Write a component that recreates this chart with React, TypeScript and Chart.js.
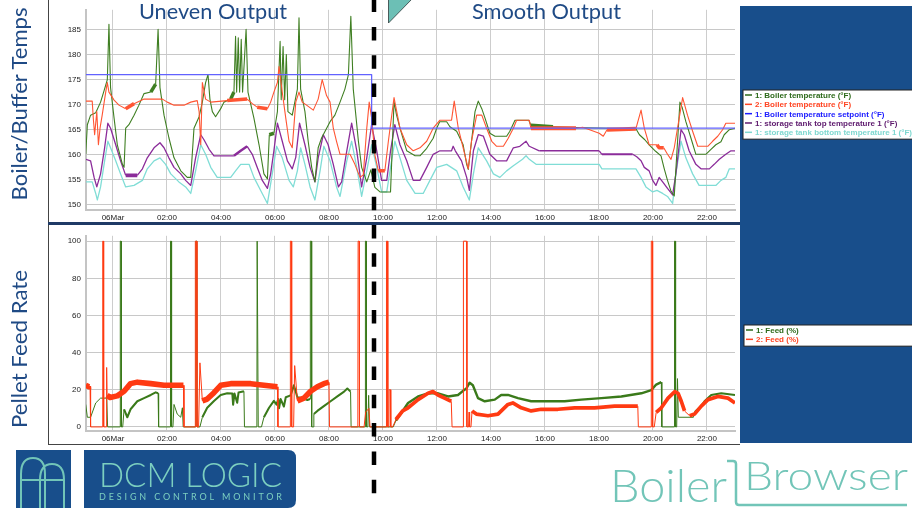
import React, { useEffect, useRef } from 'react';
import { Chart, registerables } from 'chart.js';
Chart.register(...registerables);

type P = [number, number];
type Band = [number, number, number];

// ---------- axes ----------
const timeMin = -1;
const timeMax = 23.04;
const hourTicks = [0, 2, 4, 6, 8, 10, 12, 14, 16, 18, 20, 22];
const hourLabels = ['06Mar', '02:00', '04:00', '06:00', '08:00', '10:00', '12:00', '14:00', '16:00', '18:00', '20:00', '22:00'];
const tempTicks = [150, 155, 160, 165, 170, 175, 180, 185];
const feedTicks = [0, 20, 40, 60, 80, 100];

// ---------- temperatures (hour, °F) ----------
const boiler1Temp: P[] = [[-1.01,160.1],[-0.95,166],[-0.83,167.9],[-0.64,168.4],[-0.46,170.5],[-0.33,172.8],[-0.21,175],[-0.15,186],[-0.09,173.4],[0.04,167.3],[0.16,162],[0.35,158.1],[0.41,157.5],[0.47,165.3],[0.59,166],[0.78,167.9],[0.96,169.9],[1.15,172.2],[1.4,172.5],[1.58,174.1],[1.67,185],[1.74,173.4],[1.89,167.9],[2.07,163.4],[2.26,159.4],[2.51,156.8],[2.75,155.5],[2.88,155.5],[3.0,165.3],[3.19,167.6],[3.31,170.5],[3.43,174.4],[3.52,176],[3.59,171.1],[3.68,168.6],[3.8,167.6],[3.99,169.2],[4.11,170.5],[4.36,171.1],[4.48,172.5],[4.54,183.6],[4.58,172.5],[4.64,183.3],[4.69,172.5],[4.75,183],[4.8,172.5],[4.93,185],[5.0,172.5],[5.22,167.3],[5.41,162],[5.59,156.2],[5.72,155.2],[5.79,164],[5.96,164.3],[6.09,168.6],[6.19,182.6],[6.23,171],[6.3,181.6],[6.36,171],[6.42,180],[6.48,168.6],[6.64,167.9],[6.83,173.1],[6.89,187.3],[6.95,173.1],[7.11,168.6],[7.23,162.7],[7.36,157.5],[7.48,154.6],[7.6,161.4],[7.73,163.4],[8.04,166.6],[8.22,167.9],[8.41,170.5],[8.59,173.1],[8.72,176],[8.81,187.6],[8.9,173.1],[9.09,162.7],[9.21,157.5],[9.4,154.6],[9.55,157],[9.7,153.5],[9.89,152.6],[10.28,152.6],[10.41,170.6],[10.5,168],[10.63,165.3],[10.88,160.8],[11.19,159.8],[11.37,159.8],[11.62,161.3],[11.86,163.3],[11.99,165.3],[12.1,166.6],[12.36,166.6],[12.48,165.6],[12.73,164.7],[12.97,162],[13.1,158.1],[13.16,157.1],[13.28,162.7],[13.41,168.6],[13.53,170.7],[13.66,169.2],[13.78,167.3],[13.96,164.3],[14.15,163.7],[14.58,163.7],[14.7,164.7],[14.89,166.9],[15.4,166.9],[15.48,165.9],[16.3,165.6],[17.5,165.4],[19.37,165.2],[19.5,164],[19.7,163],[19.86,162],[20.1,160.7],[20.3,159.8],[20.42,157.2],[20.54,154.9],[20.66,152.9],[20.79,151.8],[21.0,170.5],[21.08,169.5],[21.22,166.6],[21.41,163.3],[21.59,160.1],[21.96,160.1],[22.15,161.1],[22.33,162],[22.52,162.6],[22.64,164],[22.83,165],[23.04,165.3]];

const boiler2Temp: P[] = [[-1.01,170.7],[-0.77,170.7],[-0.73,167.3],[-0.68,164],[-0.6,168.6],[-0.54,162],[-0.48,165.3],[-0.4,167.9],[-0.27,172.5],[-0.21,174.4],[-0.15,172.5],[0.04,170.9],[0.22,169.9],[0.47,169.2],[0.78,170.2],[1.15,171.1],[1.83,171.1],[2.01,170.5],[2.26,169.9],[2.63,169.9],[2.88,170.5],[3.12,170.8],[3.19,168.6],[3.25,162],[3.31,174.4],[3.43,171.1],[3.62,170.5],[4.23,170.8],[4.97,171.1],[5.16,170.2],[5.34,169.5],[5.72,169.2],[5.84,170.5],[5.96,172.5],[6.09,174.4],[6.15,177.6],[6.27,172.5],[6.4,167.3],[6.52,162.7],[6.64,161.4],[6.77,170.5],[6.89,172.5],[7.01,170.5],[7.17,169.9],[7.42,168.9],[7.6,171.1],[7.75,175],[7.91,171.8],[8.04,170.5],[8.16,165.3],[8.28,162.7],[8.41,160.1],[8.78,160.1],[8.96,158.1],[9.15,155.5],[9.27,156],[9.4,165.3],[9.49,170.5],[9.58,167.3],[9.7,160],[9.83,156.8],[10.07,156.8],[10.2,162.7],[10.41,171.4],[10.63,165.3],[10.88,162],[11.12,160.8],[11.37,161.4],[11.62,162.7],[11.86,165.3],[12.11,166.9],[12.54,166.9],[12.64,170.7],[12.79,165.3],[12.97,161.4],[13.16,157.2],[13.28,162.7],[13.47,167.9],[13.66,167.9],[13.84,165.3],[14.03,162.7],[14.21,161.7],[14.46,161.7],[14.64,163.3],[14.83,165.3],[14.95,166.9],[15.42,166.9],[15.48,165.3],[17.15,165.3],[17.4,165.5],[18.01,164.3],[18.16,163.7],[18.3,165],[19.37,165.2],[19.56,168.9],[19.68,165.3],[19.86,162],[20.15,162],[20.23,161.4],[20.4,161.4],[20.54,160.1],[20.67,159.1],[20.79,161.4],[21.1,171.4],[21.28,167.9],[21.47,164.7],[21.66,161.7],[22.03,161.7],[22.21,162.7],[22.4,163.7],[22.58,165],[22.7,166.3],[23.04,166.3]];

const boilerSetpoint: P[] = [[-1.01,176],[9.58,176],[9.58,165.3],[23.04,165.3]];

const tankTopTemp: P[] = [[-1.01,159.1],[-0.83,158.8],[-0.7,155.5],[-0.6,153.6],[-0.46,156.2],[-0.31,161.4],[-0.19,166.3],[-0.09,165.3],[0.1,162],[0.28,158.8],[0.47,155.9],[0.9,155.9],[1.09,157.2],[1.27,159.4],[1.52,161.4],[1.74,162.4],[1.89,161.4],[2.07,159.4],[2.26,157.5],[2.51,156.2],[2.69,154.9],[2.88,153.9],[3.06,159.4],[3.25,164],[3.37,163],[3.56,161.1],[3.74,159.8],[4.48,159.8],[4.73,160.8],[4.97,161.7],[5.16,160.1],[5.34,157.5],[5.53,154.9],[5.72,153.3],[5.84,156.2],[5.96,160.8],[6.09,166.3],[6.27,162.7],[6.46,158.8],[6.64,157.2],[6.77,159.5],[6.91,166.3],[7.11,162],[7.3,157.5],[7.48,154.6],[7.6,159.4],[7.79,164],[7.97,162],[8.16,158.1],[8.35,153.6],[8.47,154.6],[8.66,160.8],[8.84,166.3],[9.03,160.8],[9.21,153.6],[9.4,159.4],[9.58,166],[9.77,160.8],[9.95,154.9],[10.14,154.9],[10.28,160.8],[10.44,166],[10.63,162],[10.88,158.8],[11.12,154.9],[11.37,154.9],[11.62,157.5],[11.86,160.1],[12.11,160.8],[12.54,160.8],[12.6,161.7],[12.68,160.8],[12.91,158.8],[13.1,155.5],[13.2,152.9],[13.35,160.8],[13.53,164],[13.72,163.7],[13.96,160.1],[14.21,158.8],[14.58,158.8],[14.83,161.4],[15.07,161.7],[15.3,162.7],[15.42,161.7],[15.79,160.8],[18.01,160.8],[18.11,160.1],[19.25,160.1],[19.4,159.6],[19.56,158.8],[19.68,157.5],[19.86,156.8],[19.99,154.9],[20.11,153.9],[20.23,155.5],[20.36,154.6],[20.54,153.3],[20.73,152],[20.85,156.2],[21.04,165],[21.16,164],[21.34,160.8],[21.59,158.1],[21.78,157.2],[22.09,157.2],[22.27,158.1],[22.46,159.1],[22.7,160.1],[22.89,160.8],[23.04,160.8]];

const tankBottomTemp: P[] = [[-1.01,154.6],[-0.77,154.6],[-0.64,152.3],[-0.58,151],[-0.46,153.6],[-0.31,158.8],[-0.19,162.7],[-0.09,161.4],[0.1,158.8],[0.28,156.2],[0.47,153.6],[0.78,153.9],[1.09,154.9],[1.27,157.2],[1.52,158.8],[1.74,159.4],[1.95,158.1],[2.14,156.2],[2.44,154.6],[2.69,153.6],[2.88,152.3],[3.06,156.8],[3.25,162],[3.43,160.1],[3.62,157.5],[3.86,155.5],[4.36,155.5],[4.54,156.8],[4.73,158.1],[5.04,158.1],[5.22,155.5],[5.47,152.9],[5.72,150.3],[5.9,156.2],[6.06,161.7],[6.27,159.4],[6.52,154.9],[6.68,153.6],[6.83,156.8],[6.95,161.4],[7.11,158.1],[7.3,153.6],[7.48,151],[7.67,156.8],[7.81,161.7],[8.04,158.8],[8.28,153.6],[8.41,151.7],[8.66,158.8],[8.84,162.7],[9.03,157.5],[9.21,151.7],[9.4,156.8],[9.58,162],[9.77,157.5],[9.95,152.6],[10.14,152.6],[10.28,157.5],[10.44,162.7],[10.63,159.4],[10.88,154.9],[11.19,152.3],[11.49,152.3],[11.74,154.9],[11.99,157.5],[12.36,158.1],[12.73,156.8],[12.97,153.6],[13.2,151],[13.35,156.2],[13.53,161.4],[13.84,158.8],[14.09,156.2],[14.33,155.5],[14.58,156.8],[14.83,157.8],[15.17,159.1],[15.3,159.8],[15.42,159.1],[15.67,158.1],[18.01,158.1],[18.11,157.2],[19.37,157.2],[19.56,155.5],[19.74,153.6],[19.99,152.6],[20.15,152.9],[20.36,152.3],[20.54,151.7],[20.73,150.3],[20.85,156.2],[21.04,162.7],[21.22,159.4],[21.47,156.2],[21.71,153.9],[22.33,153.9],[22.52,154.9],[22.7,155.5],[22.83,157.2],[23.04,157.2]];

// ---------- feed (hour, %) ----------
const feed1: P[] = [[-1.01,12.1],[-0.95,5.2],[-0.83,5.2],[-0.64,12.9],[-0.46,15.5],[-0.23,15.5],[-0.2,0],[0.26,0],[0.27,100],[0.3,100],[0.31,0],[0.36,0],[0.41,9.5],[0.53,5.2],[0.65,9.5],[0.9,13.8],[1.15,15.5],[1.4,17.2],[1.58,18.6],[1.67,18.1],[1.69,0],[2.12,0],[2.13,100],[2.16,100],[2.17,0],[2.22,0],[2.26,12.1],[2.38,6.9],[2.51,5.2],[2.57,10.3],[2.6,0],[3.06,0],[3.07,100],[3.11,100],[3.12,0],[3.22,0],[3.31,5.2],[3.49,10.3],[3.74,14],[3.99,17.2],[4.23,18.1],[4.42,18],[4.45,12],[4.5,18],[4.6,13],[4.65,18.5],[4.85,19.2],[4.87,0],[5.33,0],[5.34,100],[5.37,100],[5.38,0],[5.5,0],[5.59,5.2],[5.78,10.3],[5.96,14],[6.06,12],[6.12,15],[6.15,10],[6.21,15],[6.33,11],[6.4,16],[6.58,17],[6.7,22.4],[6.83,16],[7.01,15.5],[7.2,14.5],[7.3,15],[7.31,100],[7.35,100],[7.36,0],[7.42,0],[7.44,6.9],[7.57,8.6],[7.81,11.2],[8.06,13.8],[8.31,16.4],[8.56,19],[8.68,20.7],[8.8,19],[8.82,0],[9.34,0],[9.35,100],[9.38,100],[9.39,0],[9.44,0],[9.47,17],[9.5,0],[10.38,0],[10.48,3.4],[10.73,8.6],[10.93,12.9],[11.3,16.4],[11.67,18.1],[12.04,18.1],[12.41,16.4],[12.78,17.2],[13.0,19.8],[13.09,20.7],[13.21,23.8],[13.33,22.4],[13.52,15.5],[13.77,13.8],[14.14,14.7],[14.38,17.2],[14.63,17.2],[15.0,15.5],[15.49,13.8],[16.73,13.8],[17.35,14.7],[18.09,15.5],[18.83,16.4],[19.57,18.1],[19.94,19.8],[20.12,22.8],[20.31,24.1],[20.33,0],[20.79,0],[20.8,100],[20.83,100],[20.84,0],[20.88,0],[20.91,26],[20.94,5.2],[21.5,5.2],[21.55,8],[21.79,11.2],[21.91,13.8],[22.16,17.2],[22.53,18.1],[23.04,17.2]];

const feed2: P[] = [[-1.01,22.4],[-0.89,21.6],[-0.85,22],[-0.83,0],[-0.39,0],[-0.38,100],[-0.355,100],[-0.345,0],[-0.25,0],[-0.235,32],[-0.22,17],[-0.11,15.8],[0.16,16.7],[0.41,19.2],[0.65,23.3],[0.9,24.1],[1.4,23.3],[1.89,22.4],[2.51,22.4],[2.61,22.4],[2.63,0],[3.04,0],[3.05,100],[3.1,100],[3.11,0],[3.17,0],[3.22,34.5],[3.31,14],[3.49,15],[3.74,18.4],[3.99,22.4],[4.36,23.3],[5.1,23.3],[5.59,22.4],[6.09,21.6],[6.11,0],[6.56,0],[6.57,100],[6.61,100],[6.62,0],[6.69,0],[6.73,33],[6.83,14],[7.07,15.5],[7.32,19.2],[7.57,21.6],[7.81,23.3],[8.0,24.1],[8.02,0],[9.07,0],[9.08,100],[9.12,100],[9.13,0],[9.3,0],[9.36,8],[9.48,10],[9.52,0],[10.12,0],[10.13,100],[10.17,100],[10.18,0],[10.22,0],[10.23,20],[10.28,20],[10.29,0],[10.36,0],[10.48,4],[10.73,8.6],[10.93,10.3],[11.3,14.7],[11.67,18.1],[11.85,19],[12.04,17.2],[12.28,15.5],[12.53,13.8],[12.56,0],[12.97,0],[12.98,100],[13.1,100],[13.11,0],[13.17,0],[13.19,8],[13.21,0],[13.26,0],[13.3,8.6],[13.46,6.9],[13.89,6],[14.26,6.9],[14.63,12.1],[14.81,12.9],[15.12,10.3],[15.49,8.6],[15.86,9.5],[16.48,9.5],[17.1,10.3],[17.84,10.3],[18.58,11.2],[19.44,11.2],[19.46,0],[19.93,0],[19.94,100],[19.98,100],[19.99,0],[20.05,0],[20.12,7.8],[20.31,10.3],[20.56,15.5],[20.81,19],[20.93,18.1],[21.05,13.8],[21.17,8.6],[21.36,6],[21.54,6.9],[21.79,11.2],[22.04,14.7],[22.41,16.4],[22.78,15.5],[23.04,12.9]];

// ---------- rapid on/off flicker: [from hour, to hour, swing in data units] ----------
const boiler1Flicker: Band[] = [[1.3,1.6,0.7],[4.4,4.9,0.7],[5.75,5.92,0.7],[15.6,16.3,0.7]];
const boiler2Flicker: Band[] = [[0.55,0.8,0.7],[4.25,4.95,0.7],[5.4,5.75,0.7],[9.8,10.1,0.7],[15.5,17.2,0.8],[17.75,18.05,0.8],[18.6,19.35,0.8],[20.15,20.35,0.7]];
const tankTopFlicker: Band[] = [[0.5,0.9,0.7],[4.25,4.9,0.5],[15.8,18.0,0.3],[18.15,19.2,0.4]];
const feed1Noise: Band[] = [[0.42,1.66,1.1],[3.32,4.84,1.1],[5.6,7.29,1.1],[7.45,8.79,1.1],[10.5,20.31,1.3],[21.56,23.04,1.1]];
const feed2Noise: Band[] = [[-1.0,-0.86,3],[-0.18,2.6,3],[3.32,6.08,3],[6.85,7.99,3],[10.5,12.52,2],[13.31,19.43,2],[20.13,21.2,2],[21.45,23.04,2]];

const tempSeriesNames = ['1: Boiler temperature (°F)', '2: Boiler temperature (°F)', '1: Boiler temperature setpoint (°F)', '1: storage tank top temperature 1 (°F)', '1: storage tank bottom temperature 1 (°F)'];
const feedSeriesNames = ['1: Feed (%)', '2: Feed (%)'];

const C = {
  green: '#3f7f22', red: '#ff5533', blue: '#6262ff', purple: '#8b2c9a', cyan: '#80ddd6',
  feedGreen: '#3a7a1a', feedRed: '#ff3a12', navy: '#184e8b', teal: '#72c5b8', title: '#1f4a85',
};

const toXY = (a: P[]) => a.map(([x, y]) => ({ x, y }));

// thicken only the near-flat parts of a flickering stretch, never the tall spikes
const bandWidth = (bands: Band[]) => (ctx: any) => {
  const x = (ctx.p0.parsed.x + ctx.p1.parsed.x) / 2;
  const b = bands.find(([s, e]) => x >= s && x <= e);
  if (!b) return undefined;
  if (Math.abs(ctx.p1.parsed.y - ctx.p0.parsed.y) > 4 * b[2] + 3) return undefined;
  const ys = ctx.chart.scales.y;
  return Math.max(1, (b[2] * ys.height) / (ys.max - ys.min));
};

const line = (label: string, data: P[], color: string, width: number, bands?: Band[]) => ({
  label, data: toXY(data), borderColor: color, borderWidth: width, pointRadius: 0,
  tension: 0, fill: false, borderJoinStyle: 'round' as const,
  ...(bands ? { segment: { borderWidth: bandWidth(bands) } } : {}),
});

function makeOptions(yMin: number, yMax: number, yTicks: number[], xHeight: number, padTop: number) {
  const tickFont = { family: '"Liberation Sans", Arial, sans-serif', size: 8 };
  return {
    responsive: false, animation: false as const, devicePixelRatio: 1,
    layout: { padding: { top: padTop, right: 5, left: 0, bottom: 0 } },
    plugins: { legend: { display: false }, tooltip: { enabled: false } },
    scales: {
      x: {
        type: 'linear' as const, min: timeMin, max: timeMax,
        afterBuildTicks: (s: any) => { s.ticks = hourTicks.map((v) => ({ value: v })); },
        afterFit: (s: any) => { s.height = xHeight; },
        ticks: { callback: (v: any) => hourLabels[hourTicks.indexOf(v)] ?? '', font: tickFont, color: '#222', padding: 3, maxRotation: 0, autoSkip: false },
        grid: { color: '#cdcdcd', drawTicks: false },
        border: { color: '#c4c4c4', width: 2 },
      },
      y: {
        min: yMin, max: yMax,
        afterBuildTicks: (s: any) => { s.ticks = yTicks.map((v) => ({ value: v })); },
        afterFit: (s: any) => { s.width = 38; },
        ticks: { font: tickFont, color: '#222', padding: 5 },
        grid: { color: '#c8c8c8', drawTicks: false },
        border: { color: '#c4c4c4', width: 2 },
      },
    },
  };
}

function ChartCanvas({ config, left, top, width, height }: any) {
  const ref = useRef<HTMLCanvasElement>(null);
  useEffect(() => {
    const chart = new Chart(ref.current as HTMLCanvasElement, config());
    return () => chart.destroy();
  }, []);
  return (
    <canvas ref={ref} width={width} height={height}
      style={{ position: 'absolute', left, top, width, height, display: 'block' }} />
  );
}

const tempConfig = () => ({
  type: 'line' as const,
  data: {
    datasets: [
      line(tempSeriesNames[2], boilerSetpoint, C.blue, 1.3),
      line(tempSeriesNames[1], boiler2Temp, C.red, 1.1, boiler2Flicker),
      line(tempSeriesNames[0], boiler1Temp, C.green, 1.1, boiler1Flicker),
      line(tempSeriesNames[3], tankTopTemp, C.purple, 1.3, tankTopFlicker),
      line(tempSeriesNames[4], tankBottomTemp, C.cyan, 1.3),
    ],
  },
  options: makeOptions(149, 188.9, tempTicks, 12, 6),
});

const feedConfig = () => ({
  type: 'line' as const,
  data: {
    datasets: [
      line(feedSeriesNames[1], feed2, C.feedRed, 1, feed2Noise),
      line(feedSeriesNames[0], feed1, C.feedGreen, 1, feed1Noise),
    ],
  },
  options: makeOptions(-2.2, 102.9, feedTicks, 13, 1),
});

const tempLegendColors = ['#2d6a1a', '#ff4422', '#1a1aff', '#5e1a6e', '#7fd8d0'];
const feedLegendColors = ['#2d6a1a', '#ff4422'];

function Legend({ x, y, names, colors }: any) {
  const rowH = 9.33;
  const h = names.length * rowH + 2.5;
  return (
    <g>
      <rect x={x} y={y} width={913 - x} height={h} fill="#fff" stroke="#222" strokeWidth={1} />
      {names.map((n: string, i: number) => {
        const cy = y + 5 + i * rowH;
        return (
          <g key={n}>
            <line x1={x + 2} x2={x + 9} y1={cy} y2={cy} stroke={colors[i]} strokeWidth={1.5} />
            <text x={x + 12} y={cy + 3} fontFamily='"Liberation Sans", Arial, sans-serif' fontWeight="bold" fontSize={8} fill={colors[i]}>{n}</text>
          </g>
        );
      })}
    </g>
  );
}

export default function App() {
  const lato = 'Lato, "Open Sans", sans-serif';
  return (
    <div style={{ position: 'absolute', left: 0, top: 0, width: 912, height: 508, background: '#fff', overflow: 'hidden' }}>
      <ChartCanvas config={tempConfig} left={48} top={0} width={692} height={222} />
      <ChartCanvas config={feedConfig} left={48} top={226} width={692} height={218} />
      <svg width={912} height={508} style={{ position: 'absolute', left: 0, top: 0, pointerEvents: 'none' }}>
        {/* frames */}
        <line x1={48.5} y1={0} x2={48.5} y2={444} stroke="#444" strokeWidth={1} />
        <line x1={48} y1={444.5} x2={740} y2={444.5} stroke="#444" strokeWidth={1} />
        <rect x={48} y={222} width={692} height={3} fill="#1f3a66" />
        {/* right panel */}
        <rect x={740} y={6} width={172} height={437} fill={C.navy} />
        <Legend x={743} y={90} names={tempSeriesNames} colors={tempLegendColors} />
        <Legend x={744} y={325} names={feedSeriesNames} colors={feedLegendColors} />
        {/* side labels */}
        <text transform="translate(27,104) rotate(-90)" textAnchor="middle" fontFamily={lato} fontSize={21} fill={C.title} textLength={193} lengthAdjust="spacingAndGlyphs">Boiler/Buffer Temps</text>
        <text transform="translate(27,349) rotate(-90)" textAnchor="middle" fontFamily={lato} fontSize={21} fill={C.title} textLength={158} lengthAdjust="spacingAndGlyphs">Pellet Feed Rate</text>
        {/* titles */}
        <text x={139} y={18.5} fontFamily={lato} fontSize={21} fill={C.title} textLength={148} lengthAdjust="spacingAndGlyphs">Uneven Output</text>
        <text x={472} y={18.5} fontFamily={lato} fontSize={21} fill={C.title} textLength={149} lengthAdjust="spacingAndGlyphs">Smooth Output</text>
        {/* callout */}
        <polygon points="388.5,-1 388.5,23 412,-1" fill="#6cbfb5" stroke="#2d3b3b" strokeWidth={0.8} />
        {/* divider */}
        <line x1={374} y1={0} x2={374} y2={508} stroke="#000" strokeWidth={4.5} strokeDasharray="13.5 14.8" strokeDashoffset={1.4} />
        {/* DCM logic logo */}
        <rect x={16} y={450} width={55} height={58} fill={C.navy} />
        <path d="M21 508 V474 Q21 458 33 458 Q45 458 45 474 V508 M40 508 V480 Q40 464 52 464 Q64 464 64 480 V508 M21 480 H64" fill="none" stroke={C.teal} strokeWidth={2} />
        <path d="M84 450 H288 Q296 450 296 458 V500 Q296 508 288 508 H84 Z" fill={C.navy} />
        <text x={99} y={486.5} fontFamily={lato} fontWeight={300} fontSize={34} fill="#7ccfc0" textLength={183} lengthAdjust="spacingAndGlyphs">DCM LOGIC</text>
        <text x={99} y={500} fontFamily={lato} fontSize={9} fill="#7ccfc0" textLength={183} lengthAdjust="spacing">DESIGN CONTROL MONITOR</text>
        {/* BoilerBrowser logo */}
        <text x={610} y={501.5} fontFamily={lato} fontWeight={300} fontSize={46} fill={C.teal} textLength={117} lengthAdjust="spacingAndGlyphs">Boiler</text>
        <text x={744} y={490} fontFamily={lato} fontWeight={300} fontSize={39} fill={C.teal} textLength={164} lengthAdjust="spacingAndGlyphs">Browser</text>
        <path d="M727 461 H733 Q736 461 736 464 V502 Q736 505 739 505 H907" fill="none" stroke={C.teal} strokeWidth={2.5} />
      </svg>
    </div>
  );
}
